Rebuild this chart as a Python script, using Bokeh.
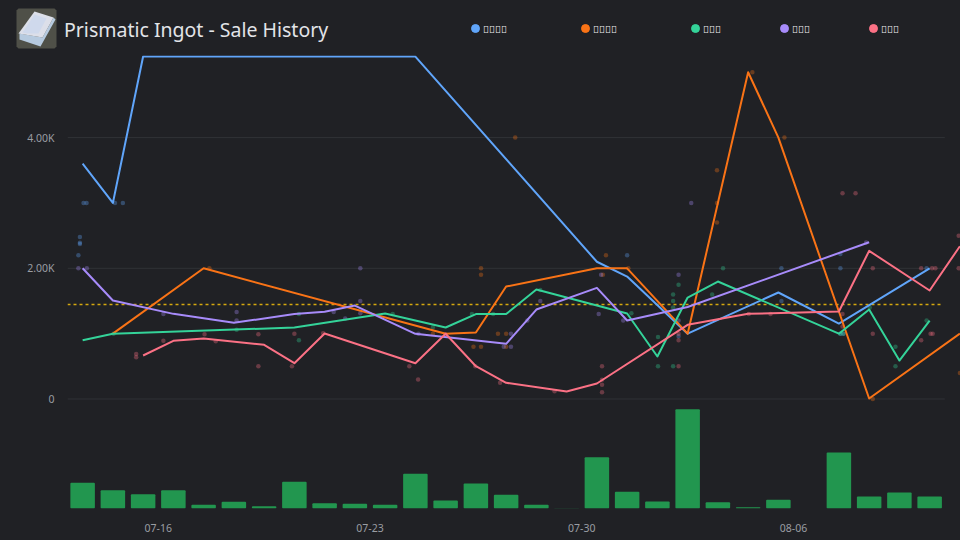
from datetime import datetime, timedelta, timezone
from bokeh.embed import file_html
from bokeh.models import (DatetimeTickFormatter, FixedTicker, Range1d)
from bokeh.core.properties import value
from bokeh.plotting import figure
from bokeh.resources import INLINE

START = datetime(2023, 7, 13)
BINS = 29

title_text = "Prismatic Ingot - Sale History"
series_names = ["\ue000\ue000\ue000\ue000", "\ue000\ue000\ue000\ue000", "\ue000\ue000\ue000", "\ue000\ue000\ue000", "\ue000\ue000\ue000"]
series_colors = ["#60a5fa", "#f97316", "#34d399", "#a78bfa", "#fb7185"]

blue_i = [0, 1, 2, 11, 17, 18, 20, 23, 25, 28]
blue_v = [3600, 3000, 5240, 5240, 2100, 1874, 1000, 1630, 1155, 2000]
orange_i = [1, 4, 12, 13, 14, 17, 18, 20, 22, 23, 26, 29]
orange_v = [1000, 2000, 1000, 1017, 1721, 2000, 2000, 1000, 5000, 4000, 8, 1000]
green_i = [0, 1, 7, 10, 12, 13, 14, 15, 18, 19, 20, 21, 25, 26, 27, 28]
green_v = [900, 1000, 1094, 1308, 1094, 1300, 1300, 1675, 1308, 650, 1553, 1798, 1000, 1369, 589, 1201]
purple_i = [0, 1, 3, 5, 7, 8, 9, 11, 14, 15, 17, 18, 20, 26]
purple_v = [2000, 1507, 1303, 1166, 1300, 1334, 1430, 998, 845, 1369, 1701, 1201, 1408, 2399]
pink_i = [2, 3, 4, 6, 7, 8, 11, 12, 13, 14, 16, 17, 20, 22, 25, 26, 28, 29]
pink_v = [666, 890, 926, 829, 548, 1002, 548, 998, 502, 248, 115, 237, 1135, 1304, 1339, 2267, 1660, 2338]

blue_dot_d = [0.53, 0.63, 1.57, 1.83, 0.41, 0.41, 0.41, 0.36, 18.5, 23.6, 25.55, 25.55, 28.4, 23.6, 25.55, 25.65, 20.2]
blue_dot_v = [3000, 3000, 3000, 3000, 2480, 2390, 2370, 2200, 2200, 2000, 2000, 2220, 2000, 1500, 1000, 1000, 960]
orange_dot_d = [4.69, 13.67, 13.67, 14.23, 14.5, 13.42, 13.67, 14.5, 17.8, 17.7, 14.8, 21.47, 21.47, 21.47, 22.64, 23.7, 26.62, 29.5, 18.54, 12.08]
orange_dot_v = [2000, 2000, 1900, 1000, 1000, 800, 800, 800, 2200, 1900, 4000, 3500, 3000, 2700, 5000, 4000, 0, 400, 2000, 1000]
green_dot_d = [1.52, 7.65, 7.65, 5.59, 10.75, 12.08, 13.37, 14.07, 15.63, 18.64, 19.52, 19.52, 20.2, 20.02, 20.02, 20.02, 20.02, 21.67, 21.31, 26.52, 27.37, 27.37, 28.4, 25.55, 25.65]
green_dot_v = [1000, 1300, 900, 1060, 1300, 1100, 1300, 1300, 1670, 1313, 950, 500, 1750, 1600, 1500, 1400, 500, 2000, 1600, 1400, 800, 500, 1200, 1000, 1000]
purple_dot_d = [0.36, 0.64, 3.17, 5.59, 5.59, 8.8, 9.18, 9.68, 9.68, 9.68, 11.6, 14.66, 14.42, 14.66, 15.2, 15.63, 17.64, 17.56, 18.37, 20.62, 20.2, 20.2, 26.4]
purple_dot_v = [2000, 2000, 1300, 1330, 1200, 1330, 1232, 2000, 1500, 1313, 1000, 1000, 800, 800, 1200, 1500, 1900, 1300, 1200, 3000, 1900, 1200, 2395]
pink_dot_d = [2.27, 2.27, 3.17, 4.53, 4.9, 6.31, 6.31, 7.5, 7.42, 8.45, 11.3, 11.59, 12.49, 13.48, 14.3, 16.1, 17.67, 17.67, 17.67, 17.67, 20.2, 20.2, 20.2, 22.52, 23.24, 25.62, 26.05, 25.62, 25.62, 26.62, 26.62, 28.22, 28.58, 28.69, 28.22, 28.53, 28.6, 29.46, 29.46]
pink_dot_v = [690, 640, 890, 990, 885, 990, 500, 1000, 500, 1005, 500, 300, 990, 500, 250, 120, 500, 295, 220, 105, 1000, 900, 500, 1300, 1300, 3150, 3150, 1300, 1110, 2000, 1000, 2000, 2000, 2000, 900, 1000, 1000, 2500, 2000]

volume = [77, 55, 43, 55, 11, 20, 7, 80, 16, 14, 11, 104, 24, 75, 41, 11, 1, 154, 50, 21, 298, 19, 4, 26, 0, 168, 36, 48, 36]

price_ticks = [0, 2000, 4000]
price_labels = {0: "0", 2000: "2.00K", 4000: "4.00K"}
date_ticks = [datetime(2023, 7, 16), datetime(2023, 7, 23), datetime(2023, 7, 30), datetime(2023, 8, 6)]
average_price = 1446

BG = "#202125"


def bin_time(i):
    return START + timedelta(days=i + 0.5)


def dot_time(d):
    return START + timedelta(days=d)


# header strip: icon, title and legend, one pixel per data unit
head = figure(width=960, height=55, output_backend="svg", toolbar_location=None,
              x_range=Range1d(0, 960), y_range=Range1d(55, 0),
              background_fill_color=None, border_fill_color=None,
              min_border_left=0, min_border_right=0, min_border_top=0, min_border_bottom=0)
head.axis.visible = False
head.grid.visible = False
head.outline_line_color = None
head.styles = {"background-color": BG}
icon_x = [[18, 54, 56, 56, 54, 18, 16, 16], [19, 42, 53, 55, 40, 19], [18, 34, 53, 42], [22, 34, 46, 38, 27]]
icon_y = [[8, 8, 10, 46, 48, 48, 46, 10], [33, 37, 17, 19, 46, 39], [33, 11, 17, 37], [32, 14, 18, 33, 33]]
head.patches(xs=icon_x, ys=icon_y, fill_color=["#4f5048", "#b6cadf", "#dcdfe9", "#cfd9ec"], line_color=None)
head.text(x=[63.5], y=[29], text=[title_text], text_color="#e2e4e8", text_font=value("Noto Sans"),
          text_font_size="19.5px", text_baseline="middle")
legend_dot_x = [475, 585, 695, 784, 873]
head.scatter(x=legend_dot_x, y=[28] * 5, size=8, color=series_colors, marker="circle")
head.text(x=[v + 7.5 for v in legend_dot_x], y=[28] * 5, text=series_names, text_color="#f0f1f3",
          text_font=value("Noto Sans"), text_font_size="10px", text_baseline="middle")

p = figure(
    width=960, height=485, output_backend="svg", toolbar_location=None,
    x_axis_type="datetime",
    x_range=Range1d(START, START + timedelta(days=29.52)),
    y_range=Range1d(-1675, 5256),
    background_fill_color=None, border_fill_color=None,
    min_border_left=67, min_border_right=0, min_border_top=0, min_border_bottom=32,
)
p.outline_line_color = None
p.grid.visible = False
p.styles = {"background-color": BG}
p.extra_y_ranges = {"volume": Range1d(0, 1360)}

xa = p.xaxis[0]
xa.ticker = FixedTicker(ticks=[d.replace(tzinfo=timezone.utc).timestamp() * 1000 for d in date_ticks])
xa.formatter = DatetimeTickFormatter(days="%m-%d", months="%m-%d", years="%m-%d", hours="%m-%d")
ya = p.yaxis[0]
ya.ticker = FixedTicker(ticks=price_ticks)
ya.major_label_overrides = price_labels
for ax in (xa, ya):
    ax.axis_line_color = None
    ax.major_tick_line_color = None
    ax.minor_tick_line_color = None
    ax.major_label_text_color = "#9a9da3"
    ax.major_label_text_font = "Noto Sans"
    ax.major_label_text_font_size = "10.5px"
ya.major_label_standoff = 7
xa.major_label_standoff = 9

axis_end = START + timedelta(days=29)
p.segment(x0=[START] * len(price_ticks), x1=[axis_end] * len(price_ticks), y0=price_ticks, y1=price_ticks,
          line_color="#303236", line_width=1)

p.vbar(x=[bin_time(i) for i in range(BINS)], top=volume, bottom=0, width=0.81 * 86400000,
       y_range_name="volume", fill_color="#22964f", line_color=None, border_radius=1)

dots = [(blue_dot_d, blue_dot_v), (orange_dot_d, orange_dot_v), (green_dot_d, green_dot_v),
        (purple_dot_d, purple_dot_v), (pink_dot_d, pink_dot_v)]
for (dd, dv), c in zip(dots, series_colors):
    p.scatter(x=[dot_time(d) for d in dd], y=dv, size=4.5, fill_color=c, fill_alpha=0.33, line_color=None)

p.segment(x0=[START], x1=[START + timedelta(days=28.95)], y0=[average_price], y1=[average_price],
          line_color="#d4a80f", line_width=1.5, line_dash="3 3")

lines = [(blue_i, blue_v), (orange_i, orange_v), (green_i, green_v), (purple_i, purple_v), (pink_i, pink_v)]
for (ii, vv), c in zip(lines, series_colors):
    p.line(x=[bin_time(i) for i in ii], y=vv, line_color=c, line_width=2, line_join="round")

open("out.html", "w").write(file_html([head, p], INLINE))
